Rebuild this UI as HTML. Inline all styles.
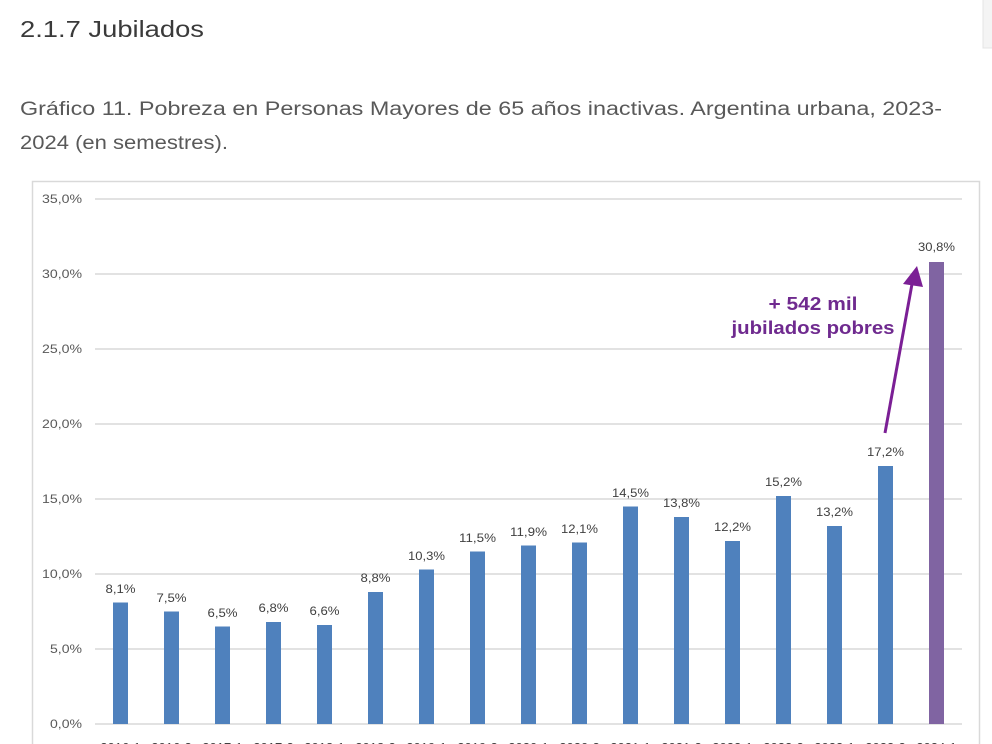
<!DOCTYPE html>
<html><head><meta charset="utf-8"><style>
html,body{margin:0;padding:0;background:#fff;width:992px;height:744px;overflow:hidden}
svg{display:block}
</style></head><body>
<svg width="992" height="744" viewBox="0 0 992 744" xmlns="http://www.w3.org/2000/svg" font-family="Liberation Sans, sans-serif">
<rect x="983" y="-2" width="20" height="50" fill="#f4f4f4" stroke="#e4e4e4"/>
<text x="20" y="37" font-size="23" fill="#3a3a3a" textLength="184" lengthAdjust="spacingAndGlyphs">2.1.7  Jubilados</text>
<text x="20" y="115" font-size="19" fill="#595959" textLength="922" lengthAdjust="spacingAndGlyphs">Gráfico 11. Pobreza en Personas Mayores de 65 años inactivas. Argentina urbana, 2023-</text>
<text x="20" y="149" font-size="19" fill="#595959" textLength="208" lengthAdjust="spacingAndGlyphs">2024 (en semestres).</text>
<rect x="32.5" y="181.5" width="947" height="580" fill="#fff" stroke="#d9d9d9" stroke-width="1.5"/>
<g stroke="#d9d9d9" stroke-width="1.5">
<line x1="95" x2="962" y1="199" y2="199"/>
<line x1="95" x2="962" y1="274" y2="274"/>
<line x1="95" x2="962" y1="349" y2="349"/>
<line x1="95" x2="962" y1="424" y2="424"/>
<line x1="95" x2="962" y1="499" y2="499"/>
<line x1="95" x2="962" y1="574" y2="574"/>
<line x1="95" x2="962" y1="649" y2="649"/>
<line x1="95" x2="962" y1="724" y2="724"/>
</g>
<g font-size="12" fill="#595959" text-anchor="end">
<text x="82" y="203" textLength="40" lengthAdjust="spacingAndGlyphs">35,0%</text>
<text x="82" y="278" textLength="40" lengthAdjust="spacingAndGlyphs">30,0%</text>
<text x="82" y="353" textLength="40" lengthAdjust="spacingAndGlyphs">25,0%</text>
<text x="82" y="428" textLength="40" lengthAdjust="spacingAndGlyphs">20,0%</text>
<text x="82" y="503" textLength="40" lengthAdjust="spacingAndGlyphs">15,0%</text>
<text x="82" y="578" textLength="40" lengthAdjust="spacingAndGlyphs">10,0%</text>
<text x="82" y="653" textLength="32" lengthAdjust="spacingAndGlyphs">5,0%</text>
<text x="82" y="728" textLength="32" lengthAdjust="spacingAndGlyphs">0,0%</text>
</g>
<g fill="#4f81bd">
<rect x="113" y="602.5" width="15" height="121.5"/>
<rect x="164" y="611.5" width="15" height="112.5"/>
<rect x="215" y="626.5" width="15" height="97.5"/>
<rect x="266" y="622" width="15" height="102"/>
<rect x="317" y="625" width="15" height="99"/>
<rect x="368" y="592" width="15" height="132"/>
<rect x="419" y="569.5" width="15" height="154.5"/>
<rect x="470" y="551.5" width="15" height="172.5"/>
<rect x="521" y="545.5" width="15" height="178.5"/>
<rect x="572" y="542.5" width="15" height="181.5"/>
<rect x="623" y="506.5" width="15" height="217.5"/>
<rect x="674" y="517" width="15" height="207"/>
<rect x="725" y="541" width="15" height="183"/>
<rect x="776" y="496" width="15" height="228"/>
<rect x="827" y="526" width="15" height="198"/>
<rect x="878" y="466" width="15" height="258"/>
</g>
<rect x="929" y="262" width="15" height="462" fill="#8064a2"/>
<g font-size="12" fill="#404040" text-anchor="middle">
<text x="120.5" y="593" textLength="30" lengthAdjust="spacingAndGlyphs">8,1%</text>
<text x="171.5" y="602" textLength="30" lengthAdjust="spacingAndGlyphs">7,5%</text>
<text x="222.5" y="617" textLength="30" lengthAdjust="spacingAndGlyphs">6,5%</text>
<text x="273.5" y="612" textLength="30" lengthAdjust="spacingAndGlyphs">6,8%</text>
<text x="324.5" y="615" textLength="30" lengthAdjust="spacingAndGlyphs">6,6%</text>
<text x="375.5" y="582" textLength="30" lengthAdjust="spacingAndGlyphs">8,8%</text>
<text x="426.5" y="560" textLength="37" lengthAdjust="spacingAndGlyphs">10,3%</text>
<text x="477.5" y="542" textLength="37" lengthAdjust="spacingAndGlyphs">11,5%</text>
<text x="528.5" y="536" textLength="37" lengthAdjust="spacingAndGlyphs">11,9%</text>
<text x="579.5" y="533" textLength="37" lengthAdjust="spacingAndGlyphs">12,1%</text>
<text x="630.5" y="497" textLength="37" lengthAdjust="spacingAndGlyphs">14,5%</text>
<text x="681.5" y="507" textLength="37" lengthAdjust="spacingAndGlyphs">13,8%</text>
<text x="732.5" y="531" textLength="37" lengthAdjust="spacingAndGlyphs">12,2%</text>
<text x="783.5" y="486" textLength="37" lengthAdjust="spacingAndGlyphs">15,2%</text>
<text x="834.5" y="516" textLength="37" lengthAdjust="spacingAndGlyphs">13,2%</text>
<text x="885.5" y="456" textLength="37" lengthAdjust="spacingAndGlyphs">17,2%</text>
<text x="936.5" y="251" textLength="37" lengthAdjust="spacingAndGlyphs">30,8%</text>
</g>
<g font-size="13" fill="#404040" text-anchor="middle">
<text x="120.5" y="752">2016-1</text>
<text x="171.5" y="752">2016-2</text>
<text x="222.5" y="752">2017-1</text>
<text x="273.5" y="752">2017-2</text>
<text x="324.5" y="752">2018-1</text>
<text x="375.5" y="752">2018-2</text>
<text x="426.5" y="752">2019-1</text>
<text x="477.5" y="752">2019-2</text>
<text x="528.5" y="752">2020-1</text>
<text x="579.5" y="752">2020-2</text>
<text x="630.5" y="752">2021-1</text>
<text x="681.5" y="752">2021-2</text>
<text x="732.5" y="752">2022-1</text>
<text x="783.5" y="752">2022-2</text>
<text x="834.5" y="752">2023-1</text>
<text x="885.5" y="752">2023-2</text>
<text x="936.5" y="752">2024-1</text>
</g>
<line x1="885" y1="433" x2="912" y2="284" stroke="#7b1f95" stroke-width="3"/>
<polygon points="917,266 903,284 923,287" fill="#7b1f95"/>
<g font-size="18" font-weight="bold" fill="#6f2a8f" text-anchor="middle">
<text x="813" y="310" textLength="89" lengthAdjust="spacingAndGlyphs">+ 542 mil</text>
<text x="813" y="334" textLength="163" lengthAdjust="spacingAndGlyphs">jubilados pobres</text>
</g>
</svg>
</body></html>
